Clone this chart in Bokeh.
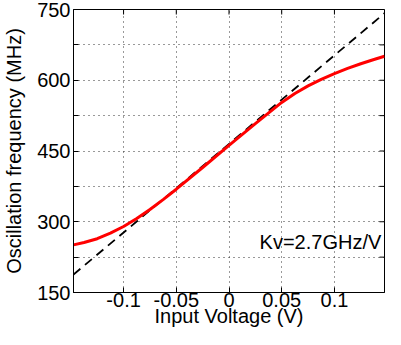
import math
from bokeh.plotting import figure
from bokeh.models import Range1d, FixedTicker, Label, CustomJSTickFormatter
from bokeh.embed import file_html
from bokeh.resources import INLINE

# ---- data ----
volt = [-0.1475, -0.1375, -0.125, -0.1125, -0.1, -0.0875, -0.075, -0.0625, -0.05, -0.025, 0.0,
        0.025, 0.05, 0.0625, 0.075, 0.0875, 0.1, 0.1125, 0.125, 0.1375, 0.1475]
freq = [251, 256, 264, 276, 290, 307, 326, 347, 369, 415, 462,
        508, 553, 572, 588, 602, 614, 625, 635, 644, 651]

kv_volt = [-0.1475, 0.1475]
kv_freq = [188, 742]

x_ticks = [-0.1, -0.05, 0.0, 0.05, 0.1]
x_tick_labels = ["-0.1", "-0.05", "0", "0.05", "0.1"]
y_ticks = [150, 225, 300, 375, 450, 525, 600, 675, 750]
y_tick_labels = ["150", "", "300", "", "450", "", "600", "", "750"]

kv_text = "Kv=2.7GHz/V"
kv_text_x = 0.029
kv_text_y = 258

x_limits = (-0.1475, 0.1475)
y_limits = (150, 750)

FONT = "Liberation Sans"

p = figure(width=385, height=329, output_backend="svg", toolbar_location=None,
           x_range=Range1d(*x_limits), y_range=Range1d(*y_limits),
           x_axis_label="Input Voltage (V)", y_axis_label="Oscillation frequency (MHz)",
           min_border_left=0, min_border_right=1, min_border_top=9, min_border_bottom=0)
p.background_fill_color = "white"
p.border_fill_color = "white"
p.outline_line_color = "black"
p.outline_line_width = 1

fmt_code = """
let best = 0, bd = Infinity;
for (let i = 0; i < tvals.length; i++) {
  const d = Math.abs(tvals[i] - tick);
  if (d < bd) { bd = d; best = i; }
}
return tlabels[best];
"""
xfmt = CustomJSTickFormatter(args=dict(tvals=x_ticks, tlabels=x_tick_labels), code=fmt_code)
yfmt = CustomJSTickFormatter(args=dict(tvals=y_ticks, tlabels=y_tick_labels), code=fmt_code)

for ax, tk, fm in ((p.xaxis[0], x_ticks, xfmt), (p.yaxis[0], y_ticks, yfmt)):
    ax.ticker = FixedTicker(ticks=tk)
    ax.formatter = fm
    ax.major_label_text_font = FONT
    ax.major_label_text_font_size = "20px"
    ax.major_label_text_color = "black"
    ax.axis_label_text_font = FONT
    ax.axis_label_text_font_size = "20px"
    ax.axis_label_text_font_style = "normal"
    ax.axis_label_text_color = "black"
    ax.major_tick_in = 5
    ax.major_tick_out = 0
    ax.minor_tick_in = 0
    ax.minor_tick_out = 0
    ax.axis_line_color = "black"
    ax.major_tick_line_color = "black"

p.xaxis[0].major_label_standoff = 0
p.xaxis[0].axis_label_standoff = -5
p.yaxis[0].major_label_standoff = 3
p.yaxis[0].axis_label_standoff = 9

# grid
for g in (p.xgrid[0], p.ygrid[0]):
    g.grid_line_color = "#333333"
    g.grid_line_dash = "1 4"
    g.grid_line_width = 1
p.xgrid[0].ticker = FixedTicker(ticks=x_ticks)
p.ygrid[0].ticker = FixedTicker(ticks=y_ticks)

# inward ticks on the right and top edges of the box (clipped to the frame)
p.scatter([x_limits[1]] * len(y_ticks), y_ticks, marker="dash", size=10,
          line_color="black", line_width=1)
p.scatter(x_ticks, [y_limits[1]] * len(x_ticks), marker="dash", size=10,
          angle=math.pi / 2, line_color="black", line_width=1)

p.line(kv_volt, kv_freq, line_color="black", line_width=1.8, line_dash="9 6")
p.line(volt, freq, line_color="#ff0000", line_width=3)

p.add_layout(Label(x=kv_text_x, y=kv_text_y, text=kv_text, text_font=FONT,
                   text_font_size="20px", text_color="black", text_baseline="alphabetic"))

open("out.html", "w").write(file_html(p, INLINE))
